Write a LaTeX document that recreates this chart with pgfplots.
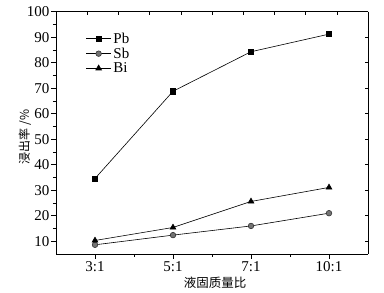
\documentclass[border=0pt]{standalone}
\usepackage{pgfplots}
\pgfplotsset{compat=1.18}
\usepackage{fontspec}
\setmainfont{Liberation Serif}
\newfontfamily\cjk{Noto Sans CJK SC}
\begin{document}
\begin{tikzpicture}
\begin{axis}[
  name=main,
  scale only axis,
  width=312pt, height=242.3pt,
  xmin=-0.5, xmax=3.5, ymin=5, ymax=100,
  xtick={0,1,2,3},
  xticklabels={3:1,5:1,7:1,10:1},
  minor xtick={0.5,1.5,2.5},
  ytick={10,20,...,100},
  minor ytick={15,25,...,95},
  axis x line*=bottom, axis y line*=left,
  tick align=outside,
  major tick length=5pt, minor tick length=3pt,
  tick style={black, line width=0.6pt},
  axis line style={line width=0.8pt},
  /pgf/number format/assume math mode=true,
  tick label style={font=\fontsize{15}{17}\selectfont},
  yticklabel style={xshift=2pt},
  xticklabel style={yshift=1pt},
  xlabel={\cjk\fontsize{12.5}{14}\selectfont 液固质量比},
  ylabel={\cjk\fontsize{12}{14}\selectfont 浸出率 /\%},
  ylabel style={at={(axis description cs:-0.0994,0.483)}, anchor=center},
  xlabel style={at={(axis description cs:0.51,0)}, yshift=-29pt, anchor=center},
  legend style={draw=none, fill=none, at={(0.095,0.922)}, anchor=north west,
    font=\fontsize{15}{17}\selectfont, row sep=-1pt, inner sep=0pt},
  legend image code/.code={
    \draw[mark repeat=2,mark phase=2] plot coordinates {(0pt,0pt) (12.5pt,0pt) (25pt,0pt)};},
  legend cell align=left,
  every axis plot/.append style={black, line width=0.6pt},
]
\addplot[mark=square*, mark size=2.6pt, mark options={fill=black}] coordinates {(0,34.6) (1,68.8) (2,84.3) (3,91.2)};
\addlegendentry{Pb}
\addplot[mark=*, mark size=2.8pt, mark options={fill=black!55, draw=black!80}] coordinates {(0,8.6) (1,12.4) (2,16.0) (3,21.0)};
\addlegendentry{Sb}
\addplot[mark=triangle*, mark size=3.3pt, mark options={fill=black}] coordinates {(0,10.3) (1,15.4) (2,25.6) (3,31.1)};
\addlegendentry{Bi}
\end{axis}
\begin{axis}[
  scale only axis,
  width=312pt, height=242.3pt,
  at={(main.south west)}, anchor=south west,
  xmin=-0.5, xmax=3.5, ymin=5, ymax=100,
  axis x line*=top, axis y line*=right,
  tick align=inside,
  xtick={-0.1,0.3,...,3.5}, ytick={10,20,...,100},
  xticklabels={}, yticklabels={},
  major tick length=3pt,
  tick style={black, line width=0.5pt},
  axis line style={line width=0.8pt},
]
\end{axis}
\pgfresetboundingbox
\path[use as bounding box] ([shift={(-56pt,-39pt)}]main.south west) rectangle ([shift={(16pt,11.7pt)}]main.north east);
\end{tikzpicture}
\end{document}
